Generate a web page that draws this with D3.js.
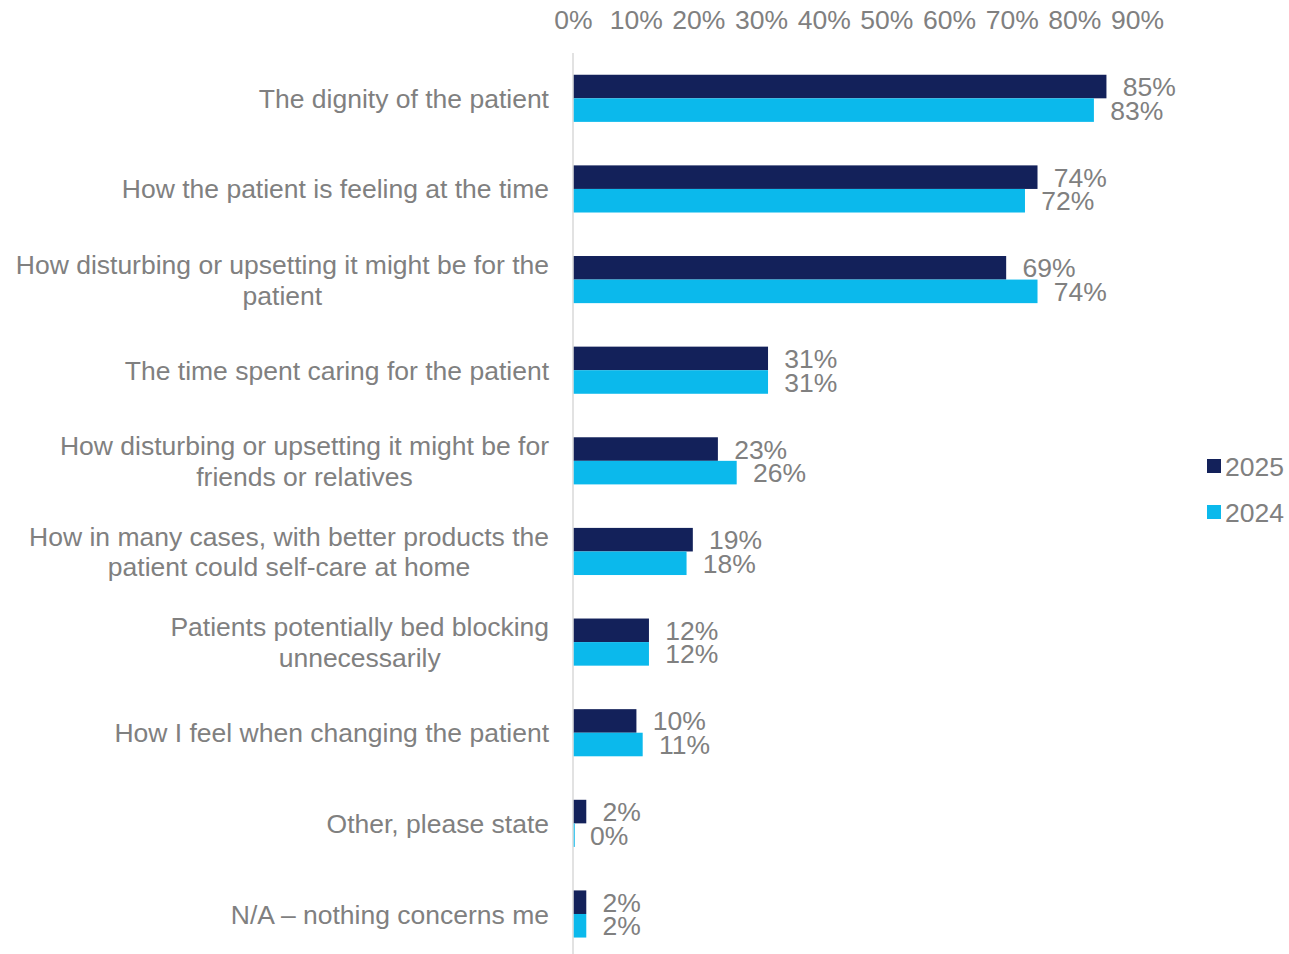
<!DOCTYPE html>
<html>
<head>
<meta charset="utf-8">
<script src="https://cdn.jsdelivr.net/npm/d3@7"></script>
<style>
  html, body { margin: 0; padding: 0; background: #ffffff; }
  svg { display: block; font-family: "Liberation Sans", Arial, sans-serif; }
</style>
</head>
<body>
<svg id="chart" width="1289" height="954"></svg>
<script>
// Concerns when changing a patient: share of respondents, 2025 vs 2024
const categories = [
  "The dignity of the patient",
  "How the patient is feeling at the time",
  "How disturbing or upsetting it might be for the patient",
  "The time spent caring for the patient",
  "How disturbing or upsetting it might be for friends or relatives",
  "How in many cases, with better products the patient could self-care at home",
  "Patients potentially bed blocking unnecessarily",
  "How I feel when changing the patient",
  "Other, please state",
  "N/A \u2013 nothing concerns me"
];
// Wrapped lines for the category labels
const categoryLines = [
  ["The dignity of the patient"],
  ["How the patient is feeling at the time"],
  ["How disturbing or upsetting it might be for the", "patient"],
  ["The time spent caring for the patient"],
  ["How disturbing or upsetting it might be for", "friends or relatives"],
  ["How in many cases, with better products the", "patient could self-care at home"],
  ["Patients potentially bed blocking", "unnecessarily"],
  ["How I feel when changing the patient"],
  ["Other, please state"],
  ["N/A \u2013 nothing concerns me"]
];
const seriesNames = ["2025", "2024"];
const values2025 = [85, 74, 69, 31, 23, 19, 12, 10, 2, 2];
const values2024 = [83, 72, 74, 31, 26, 18, 12, 11, 0, 2];
const tickValues = [0, 10, 20, 30, 40, 50, 60, 70, 80, 90];

const colors = { "2025": "#13215a", "2024": "#0bb9ec" };
const textColor = "#808080";
const fontSize = "26.5px";

const svg = d3.select("#chart");
const left = 573, plotTop = 53, plotBottom = 959.3;

const x = d3.scaleLinear().domain([0, 100]).range([left, left + 626.7]);
const y = d3.scaleBand().domain(categories).range([plotTop, plotBottom])
  .paddingInner(0.48).paddingOuter(0.24);
const ySub = d3.scaleBand().domain(seriesNames).range([0, y.bandwidth()]);

const seriesValues = { "2025": values2025, "2024": values2024 };
const rows = categories.map((c, i) => ({
  category: c,
  lines: categoryLines[i],
  values: seriesNames.map(s => ({ series: s, value: seriesValues[s][i] }))
}));

// Top axis: labels only
const axis = svg.append("g")
  .attr("transform", `translate(0, 29)`)
  .call(d3.axisTop(x).tickValues(tickValues).tickFormat(d => d + "%").tickSize(0).tickPadding(0));
axis.select(".domain").remove();
axis.selectAll("text")
  .attr("fill", textColor)
  .style("font-size", fontSize)
  .style("font-family", "'Liberation Sans', Arial, sans-serif");

// Category baseline
svg.append("line")
  .attr("x1", x(0)).attr("x2", x(0))
  .attr("y1", plotTop).attr("y2", 954)
  .attr("stroke", "#d9d9d9").attr("stroke-width", 1.5);

const rowG = svg.selectAll("g.row").data(rows).join("g")
  .attr("class", "row")
  .attr("transform", d => `translate(0, ${y(d.category)})`);

rowG.selectAll("rect").data(d => d.values).join("rect")
  .attr("x", x(0) + 0.75)
  .attr("y", d => ySub(d.series))
  .attr("width", d => Math.max(0, x(d.value) - x(0)) || 1)
  .attr("height", ySub.bandwidth())
  .attr("fill", d => colors[d.series]);

rowG.selectAll("text.val").data(d => d.values).join("text")
  .attr("class", "val")
  .attr("x", d => x(d.value) + 17)
  .attr("y", d => ySub(d.series) + ySub.bandwidth() / 2)
  .attr("dy", "0.36em")
  .attr("fill", textColor)
  .style("font-size", fontSize)
  .text(d => d.value + "%");

// Category labels, right-aligned; wrapped lines centred under the first line
const lineH = 31;
rowG.append("text")
  .attr("fill", textColor)
  .style("font-size", fontSize)
  .each(function(d) {
    const t = d3.select(this);
    const n = d.lines.length;
    d.lines.forEach((ln, k) => {
      t.append("tspan")
        .attr("x", 549)
        .attr("y", y.bandwidth() / 2 + (k - (n - 1) / 2) * lineH)
        .attr("dy", "0.36em")
        .attr("text-anchor", k === 0 ? "end" : "middle")
        .text(ln);
    });
  });

rowG.each(function(d) {
  if (d.lines.length < 2) return;
  const spans = d3.select(this).selectAll("tspan").nodes();
  const w0 = spans[0].getComputedTextLength();
  spans.slice(1).forEach(s => d3.select(s).attr("x", 549 - w0 / 2));
});

// Legend
const legend = svg.append("g");
seriesNames.forEach((s, i) => {
  const cy = 466 + i * 46;
  legend.append("rect")
    .attr("x", 1207).attr("y", cy - 7).attr("width", 14).attr("height", 14)
    .attr("fill", colors[s]);
  legend.append("text")
    .attr("x", 1225).attr("y", cy).attr("dy", "0.36em")
    .attr("fill", textColor).style("font-size", fontSize)
    .text(s);
});
</script>
</body>
</html>
